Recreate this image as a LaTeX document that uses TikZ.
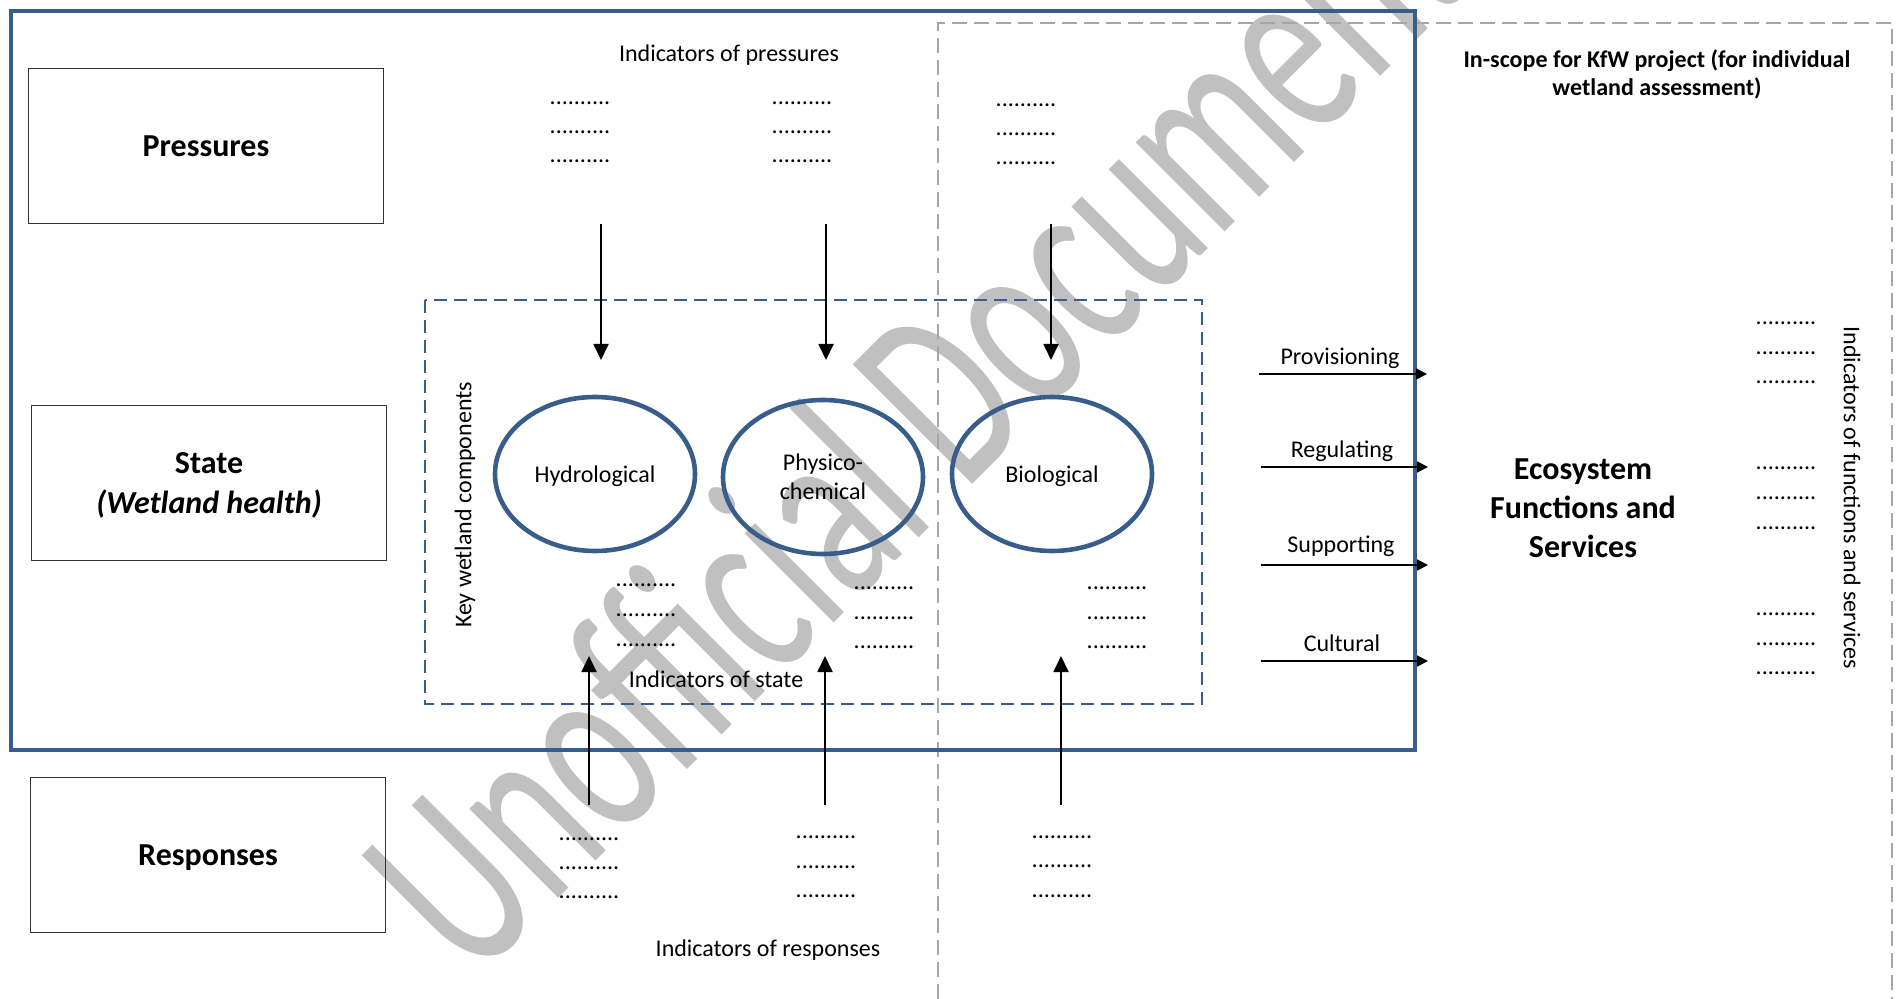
\documentclass[tikz,border=0pt]{standalone}
\usepackage{fontspec}
\setmainfont{Carlito}
\usetikzlibrary{arrows.meta,shapes.geometric}
\definecolor{frameblue}{HTML}{385D8A}
\definecolor{scopegray}{HTML}{A6A6A6}
\definecolor{markgray}{HTML}{C0C0C0}

\begin{document}
\begin{tikzpicture}[x=0.5pt,y=-0.5pt,>={Triangle[length=8pt,width=7.5pt]},
 every node/.style={font=\fontsize{12}{14.6}\selectfont,inner sep=0pt},
 dpsr/.style={draw=black!80,line width=0.8pt,minimum width=177.5pt,minimum height=77.5pt,
  font=\fontsize{16}{20}\selectfont\bfseries,align=center,text depth=0pt},
 comp/.style={ellipse,draw=frameblue,line width=2.3pt,minimum width=100pt,minimum height=77pt,
  align=center,text depth=0pt},
 dotrow/.style={anchor=base},
 flow/.style={->,line width=0.9pt},
 service/.style={->,line width=0.9pt,>={Triangle[length=5.5pt,width=5.5pt]}}]
 \useasboundingbox (0,0) rectangle (1900,999);
 \node[rotate=45,anchor=base,text=markgray,font=\fontsize{85}{96}\selectfont] (mark) at (974,483)
  {\scalebox{1}[1.55]{Unofficial Document}};

 \draw[scopegray,line width=1.3pt,dash pattern=on 7.5pt off 3.5pt] (938,999) -- (938,23) -- (1892,23) -- (1892,999);
 \draw[frameblue,line width=1.6pt] (11,11) rectangle (1415,750);
 \draw[frameblue,line width=1.2pt,dash pattern=on 6.5pt off 3.5pt] (425,300) rectangle (1202,704);

 \node[dpsr] (press) at (206,146) {Pressures};
 \node[dpsr] (state) at (209,483) {State\\\textit{(Wetland health)}};
 \node[dpsr] (resp) at (208,855) {Responses};

 \node[comp] (hydro) at (595,474) {Hydrological};
 \node[comp] (physchem) at (823,477) {Physico-\\chemical};
 \node[comp] (bio) at (1052,474) {Biological};

 \node (indpress) at (729,55) {Indicators of pressures};
 \node (indstate) at (716,679) {Indicators of state};
 \node (indresp) at (768,950) {Indicators of responses};
 \node[rotate=90] (keycomp) at (465,505) {Key wetland components};
 \node[rotate=-90] (indfun) at (1852,498) {Indicators of functions and services};
 \node[font=\fontsize{12}{14}\selectfont\bfseries,align=center] (scope) at (1657,74)
  {In-scope for KfW project (for individual\\wetland assessment)};
 \node[font=\fontsize{16}{19.5}\selectfont\bfseries,align=center] (efs) at (1583,508)
  {Ecosystem\\Functions and\\Services};

 \node[dotrow] (pdot1a) at (580,105) {..........};
 \node[dotrow] (pdot1b) at (580,134) {..........};
 \node[dotrow] (pdot1c) at (580,163) {..........};
 \node[dotrow] (pdot2a) at (802,105) {..........};
 \node[dotrow] (pdot2b) at (802,134) {..........};
 \node[dotrow] (pdot2c) at (802,163) {..........};
 \node[dotrow] (pdot3a) at (1026,107) {..........};
 \node[dotrow] (pdot3b) at (1026,136) {..........};
 \node[dotrow] (pdot3c) at (1026,165) {..........};

 \node[dotrow] (sdot1a) at (646,587) {..........};
 \node[dotrow] (sdot1b) at (646,617) {..........};
 \node[dotrow] (sdot1c) at (646,646) {..........};
 \node[dotrow] (sdot2a) at (884,589) {..........};
 \node[dotrow] (sdot2b) at (884,619) {..........};
 \node[dotrow] (sdot2c) at (884,648) {..........};
 \node[dotrow] (sdot3a) at (1117,589) {..........};
 \node[dotrow] (sdot3b) at (1117,619) {..........};
 \node[dotrow] (sdot3c) at (1117,648) {..........};

 \node[dotrow] (rdot1a) at (589,840) {..........};
 \node[dotrow] (rdot1b) at (589,869) {..........};
 \node[dotrow] (rdot1c) at (589,898) {..........};
 \node[dotrow] (rdot2a) at (826,838) {..........};
 \node[dotrow] (rdot2b) at (826,868) {..........};
 \node[dotrow] (rdot2c) at (826,897) {..........};
 \node[dotrow] (rdot3a) at (1062,838) {..........};
 \node[dotrow] (rdot3b) at (1062,867) {..........};
 \node[dotrow] (rdot3c) at (1062,897) {..........};

 \node[dotrow] (fdot1a) at (1786,325) {..........};
 \node[dotrow] (fdot1b) at (1786,355) {..........};
 \node[dotrow] (fdot1c) at (1786,384) {..........};
 \node[dotrow] (fdot2a) at (1786,470) {..........};
 \node[dotrow] (fdot2b) at (1786,500) {..........};
 \node[dotrow] (fdot2c) at (1786,530) {..........};
 \node[dotrow] (fdot3a) at (1786,616) {..........};
 \node[dotrow] (fdot3b) at (1786,645) {..........};
 \node[dotrow] (fdot3c) at (1786,674) {..........};

 \coordinate (down1) at (601,224);
 \coordinate (down2) at (826,224);
 \coordinate (down3) at (1051,224);
 \coordinate (tip1) at (601,360);
 \coordinate (tip2) at (826,360);
 \coordinate (tip3) at (1051,360);
 \draw[flow] (down1) -- (tip1);
 \draw[flow] (down2) -- (tip2);
 \draw[flow] (down3) -- (tip3);

 \coordinate (up1) at (589,805);
 \coordinate (up2) at (825,805);
 \coordinate (up3) at (1061,805);
 \coordinate (uptip1) at (589,656);
 \coordinate (uptip2) at (825,656);
 \coordinate (uptip3) at (1061,656);
 \draw[flow] (up1) -- (uptip1);
 \draw[flow] (up2) -- (uptip2);
 \draw[flow] (up3) -- (uptip3);

 \node (prov) at (1340,358) {Provisioning};
 \node (regul) at (1342,451) {Regulating};
 \node (supp) at (1341,546) {Supporting};
 \node (cult) at (1342,643) {Cultural};
 \coordinate (prov0) at (1259,374);
 \coordinate (prov1) at (1427,374);
 \coordinate (regul0) at (1261,467);
 \coordinate (regul1) at (1428,467);
 \coordinate (supp0) at (1261,565);
 \coordinate (supp1) at (1428,565);
 \coordinate (cult0) at (1261,661);
 \coordinate (cult1) at (1428,661);
 \draw[service] (prov0) -- (prov1);
 \draw[service] (regul0) -- (regul1);
 \draw[service] (supp0) -- (supp1);
 \draw[service] (cult0) -- (cult1);
\end{tikzpicture}
\end{document}
